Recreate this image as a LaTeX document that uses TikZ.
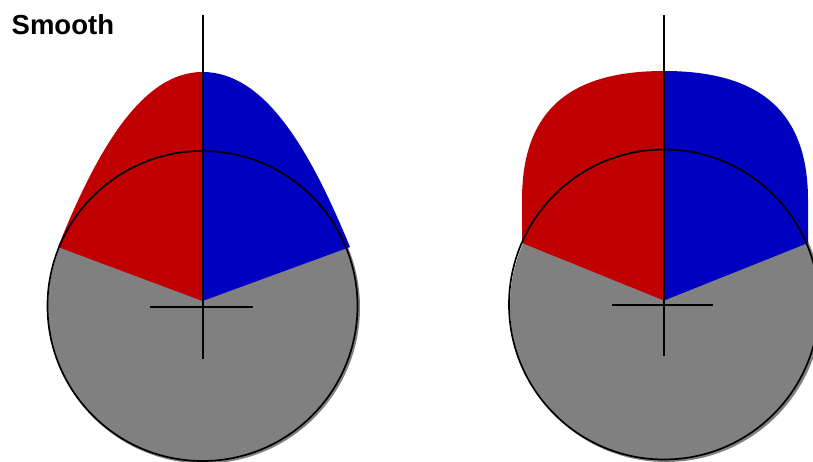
\documentclass[tikz,border=0pt]{standalone}
\usepackage{fontspec}
\setmainfont{Liberation Sans}
\begin{document}
\begin{tikzpicture}[x=1pt,y=-1pt,
  camline/.style={line width=1.7pt,black},
  axisline/.style={line width=2pt,black}]
\definecolor{camred}{RGB}{192,0,0}
\definecolor{camblue}{RGB}{0,0,192}
\definecolor{camgray}{RGB}{128,128,128}
\useasboundingbox (0,0) rectangle (813,462);
\clip (0,0) rectangle (813,462);
\node[anchor=base west,inner sep=0,font=\bfseries\fontsize{27.5}{30}\selectfont] (title) at (11.5,35) {Smooth};

% left cam
\fill[camgray] (204,307.5) circle[radius=156];
\fill[camred] (202.5,301) -- (58,247) .. controls (97,150) and (142,72) .. (202.5,72) -- cycle;
\fill[camblue] (202.5,301) -- (350,247) .. controls (310,150) and (265,72) .. (202.5,72) -- cycle;
\draw[camline] (202.5,306) circle[radius=155];
\draw[axisline] (202.5,15) -- (202.5,359);
\draw[axisline] (150,306.5) -- (253,306.5);

% right cam
\fill[camgray] (666,306) circle[radius=156];
\fill[camred] (664,300.5) -- (522,243) -- (522,200) .. controls (522,110) and (570,71) .. (664,71) -- cycle;
\fill[camblue] (664,300.5) -- (808,243) -- (808,200) .. controls (808,110) and (758,71) .. (664,71) -- cycle;
\draw[camline] (664,304.5) circle[radius=155];
\draw[axisline] (664,15) -- (664,356);
\draw[axisline] (612,304.5) -- (713,304.5);
\end{tikzpicture}
\end{document}
